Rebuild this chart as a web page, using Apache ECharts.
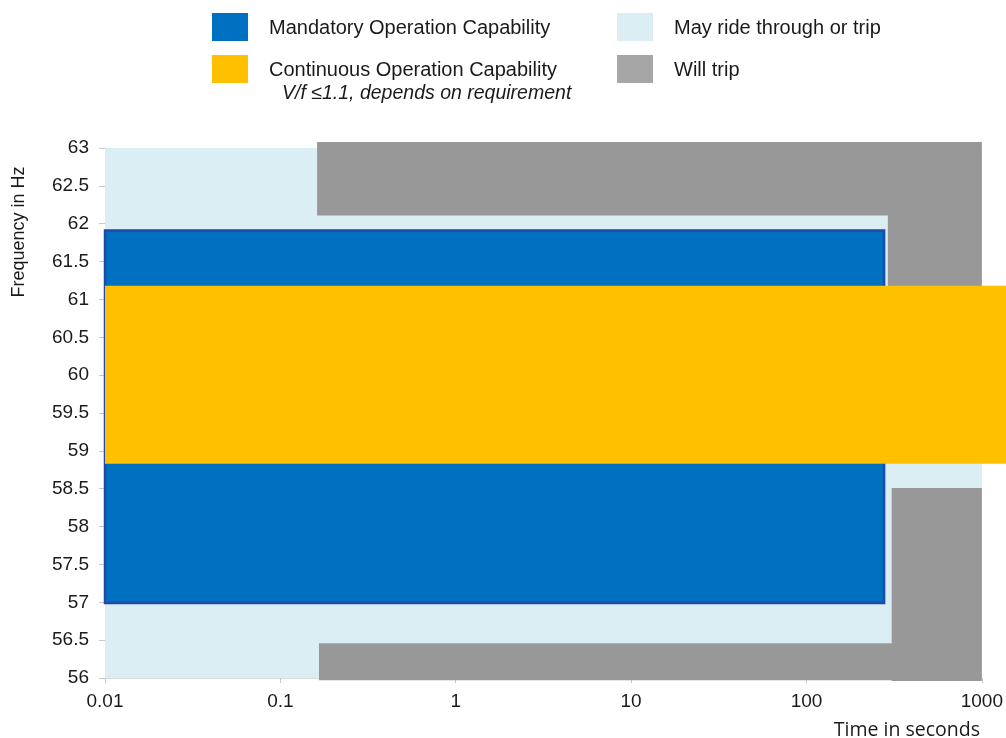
<!DOCTYPE html>
<html>
<head>
<meta charset="utf-8">
<script src="https://cdn.jsdelivr.net/npm/echarts@6/dist/echarts.min.js"></script>
<style>
html,body{margin:0;padding:0;background:#fff;}
#chart{width:1006px;height:738px;}
</style>
</head>
<body>
<div id="chart"></div>
<script>
// Each region: [tStart(s), tEnd(s), fLow(Hz), fHigh(Hz)]
const mayRideThrough = [[0.01, 1000, 56, 63]];
const willTrip = [
  [0.162, 300, 62.11, 63.08],
  [291, 1000, 61.0, 63.08],
  [0.166, 310, 55.97, 56.46],
  [306, 1000, 55.96, 58.51]
];
const mandatory = [[0.01, 277, 56.99, 61.91]];
const continuous = [[0.01, 1400, 58.83, 61.18]];

const xTicks = [0.01, 0.1, 1, 10, 100, 1000];
const seriesNames = ['May ride through or trip', 'Will trip', 'Mandatory Operation Capability', 'Continuous Operation Capability'];
const subNote = 'V/f \u22641.1, depends on requirement';
const yTitle = 'Frequency in Hz';
const xTitle = 'Time in seconds';

const colors = {
  light: '#DAEEF3',
  gray: '#989898',
  grayLegend: '#A6A6A6',
  blue: '#0070C0',
  blueEdge: '#1F4AA8',
  yellow: '#FFC000'
};

function makeRender(fill, stroke, lw) {
  return function (params, api) {
    const p0 = api.coord([api.value(0), api.value(3)]);
    const p1 = api.coord([api.value(1), api.value(2)]);
    return {
      type: 'rect',
      shape: { x: p0[0], y: p0[1], width: p1[0] - p0[0], height: p1[1] - p0[1] },
      style: { fill: fill, stroke: stroke || null, lineWidth: lw || 0 }
    };
  };
}

function rectSeries(name, data, fill, stroke, lw) {
  return {
    type: 'custom',
    name: name,
    data: data,
    encode: { x: [0, 1], y: [2, 3] },
    clip: false,
    silent: true,
    renderItem: makeRender(fill, stroke, lw)
  };
}

const font = '"Liberation Sans", Arial, sans-serif';
const txt = '#1a1a1a';

function legendItem(x, y, color, label) {
  return [
    { type: 'rect', left: x, top: y, shape: { width: 36, height: 28 }, style: { fill: color } },
    { type: 'text', left: x + 57, top: y + 5, style: { text: label, font: '20px ' + font, fill: txt } }
  ];
}

const graphics = [].concat(
  legendItem(212, 13, colors.blue, seriesNames[2]),
  legendItem(212, 55, colors.yellow, seriesNames[3]),
  legendItem(617, 13, colors.light, seriesNames[0]),
  legendItem(617, 55, colors.grayLegend, seriesNames[1]),
  [
    { type: 'text', left: 282, top: 84, style: { text: subNote, font: 'italic 19.5px ' + font, fill: txt } },
    { type: 'text', x: 19, y: 232, rotation: Math.PI / 2,
      style: { text: yTitle, font: '18px ' + font, fill: txt, align: 'center', verticalAlign: 'middle' } },
    { type: 'text', x: 980, y: 730,
      style: { text: xTitle, font: '19.5px "Open Sans", sans-serif', fill: txt, align: 'right', verticalAlign: 'middle' } }
  ]
);

const chart = echarts.init(document.getElementById('chart'), null, { renderer: 'canvas' });
chart.setOption({
  animation: false,
  backgroundColor: '#fff',
  grid: { left: 105, right: 24, top: 148, bottom: 60 },
  xAxis: {
    type: 'log',
    logBase: 10,
    min: xTicks[0],
    max: xTicks[xTicks.length - 1],
    axisLine: { show: true, lineStyle: { color: '#d9d9d9' } },
    axisTick: { show: true, length: 5, lineStyle: { color: '#c8c8c8' } },
    splitLine: { show: false },
    minorTick: { show: false },
    axisLabel: {
      fontSize: 19, color: txt, fontFamily: font, margin: 14,
      formatter: function (v) { return String(parseFloat(Number(v).toPrecision(6))); }
    }
  },
  yAxis: {
    type: 'value',
    min: 56,
    max: 63,
    interval: 0.5,
    axisLine: { show: true, lineStyle: { color: '#d9d9d9' } },
    axisTick: { show: true, length: 6, lineStyle: { color: '#c8c8c8' } },
    splitLine: { show: false },
    axisLabel: { fontSize: 19, color: txt, fontFamily: font, margin: 16 }
  },
  graphic: graphics,
  series: [
    rectSeries(seriesNames[0], mayRideThrough, colors.light),
    rectSeries(seriesNames[1], willTrip, colors.gray),
    rectSeries(seriesNames[2], mandatory, colors.blue, colors.blueEdge, 2.5),
    rectSeries(seriesNames[3], continuous, colors.yellow)
  ]
});
</script>
</body>
</html>
